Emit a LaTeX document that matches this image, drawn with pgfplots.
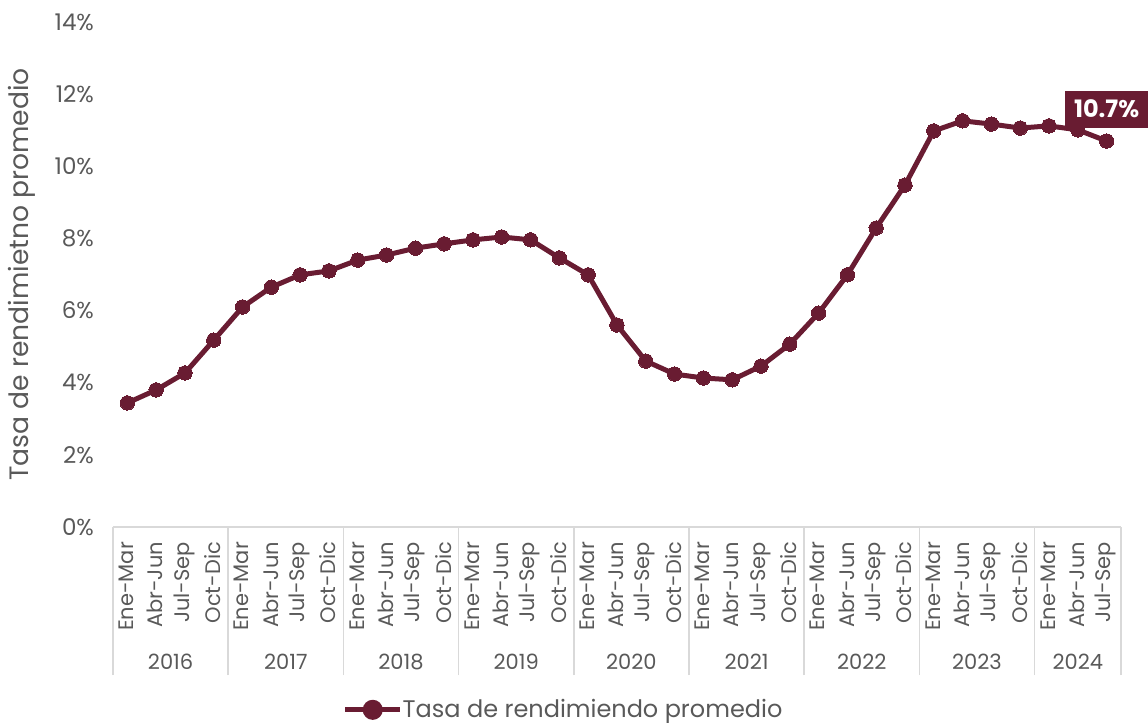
\documentclass[border=0pt]{standalone}
\usepackage{pgfplots}
\pgfplotsset{compat=1.18}
\usepackage{fontspec}
\setmainfont{Poppins}
\definecolor{vino}{HTML}{691C32}
\definecolor{txt}{HTML}{595959}
\definecolor{axl}{HTML}{D9D9D9}
\begin{document}
\begin{tikzpicture}
\useasboundingbox (-56.5pt,-98pt) rectangle (517.5pt,263.5pt);
\begin{axis}[
  at={(0pt,0pt)}, anchor=south west,
  width=504pt, height=252.5pt, scale only axis,
  xmin=-0.5, xmax=34.5, ymin=0, ymax=14,
  axis x line*=bottom, axis y line*=left,
  x axis line style={draw=axl, line width=0.75pt, -},
  y axis line style={draw=none},
  clip=false,
  font=\fontsize{10.5}{12}\selectfont,
  /pgf/number format/assume math mode=true,
  tick label style={text=txt},
  ytick={0,2,...,14},
  yticklabel={\pgfmathprintnumber{\tick}\%},
  yticklabel style={anchor=east, xshift=-6pt, font=\fontsize{11.5}{13}\selectfont},
  xtick={0,...,34},
  xticklabels={Ene-Mar,Abr-Jun,Jul-Sep,Oct-Dic,Ene-Mar,Abr-Jun,Jul-Sep,Oct-Dic,Ene-Mar,Abr-Jun,Jul-Sep,Oct-Dic,Ene-Mar,Abr-Jun,Jul-Sep,Oct-Dic,Ene-Mar,Abr-Jun,Jul-Sep,Oct-Dic,Ene-Mar,Abr-Jun,Jul-Sep,Oct-Dic,Ene-Mar,Abr-Jun,Jul-Sep,Oct-Dic,Ene-Mar,Abr-Jun,Jul-Sep,Oct-Dic,Ene-Mar,Abr-Jun,Jul-Sep},
  xticklabel style={rotate=90, anchor=east, xshift=-4pt, yshift=0.5pt},
  major tick length=0pt,
  extra x ticks={-0.5,3.5,7.5,11.5,15.5,19.5,23.5,27.5,31.5,34.5},
  extra x tick labels={},
  extra x tick style={tick align=outside, major tick length=74pt, tick style={draw=axl, line width=0.75pt}},
  ylabel={Tasa de rendimietno promedio},
  every axis y label/.style={at={(axis description cs:-0.0903,0.5)}, rotate=90, anchor=center, font=\fontsize{13.3}{15}\selectfont, text=txt},
  legend style={at={(axis description cs:0.448,-0.362)}, anchor=center, draw=none, fill=none, font=\fontsize{12}{14}\selectfont, text=txt, inner xsep=0pt, /tikz/every odd column/.style={column sep=-2pt}},
  legend image code/.code={\draw[vino, line width=2.5pt] (0pt,0pt) -- (27.5pt,0pt); \fill[vino] (13.75pt,0pt) circle (3.75pt);},
]
\addplot[vino, line width=2.5pt, mark=*, mark size=3.6pt, mark options={fill=vino, draw=vino, line width=0pt}] coordinates {
(0,3.44) (1,3.80) (2,4.27) (3,5.18)
(4,6.10) (5,6.65) (6,6.99) (7,7.10)
(8,7.40) (9,7.54) (10,7.73) (11,7.85)
(12,7.96) (13,8.04) (14,7.96) (15,7.46)
(16,6.99) (17,5.60) (18,4.60) (19,4.24)
(20,4.13) (21,4.08) (22,4.46) (23,5.07)
(24,5.93) (25,6.99) (26,8.29) (27,9.48)
(28,10.98) (29,11.26) (30,11.17) (31,11.06)
(32,11.12) (33,11.01) (34,10.70)
};
\addlegendentry{Tasa de rendimiendo promedio}
\node[fill=vino, text=white, font=\bfseries\fontsize{12}{14}\selectfont, minimum width=41.5pt, minimum height=18.5pt, inner sep=1pt, yshift=16pt] at (axis cs:34,10.7) {10.7\%};
\node[text=txt, yshift=-67.5pt] at (axis cs:1.5,0) {2016};
\node[text=txt, yshift=-67.5pt] at (axis cs:5.5,0) {2017};
\node[text=txt, yshift=-67.5pt] at (axis cs:9.5,0) {2018};
\node[text=txt, yshift=-67.5pt] at (axis cs:13.5,0) {2019};
\node[text=txt, yshift=-67.5pt] at (axis cs:17.5,0) {2020};
\node[text=txt, yshift=-67.5pt] at (axis cs:21.5,0) {2021};
\node[text=txt, yshift=-67.5pt] at (axis cs:25.5,0) {2022};
\node[text=txt, yshift=-67.5pt] at (axis cs:29.5,0) {2023};
\node[text=txt, yshift=-67.5pt] at (axis cs:33,0) {2024};
\end{axis}
\end{tikzpicture}
\end{document}
